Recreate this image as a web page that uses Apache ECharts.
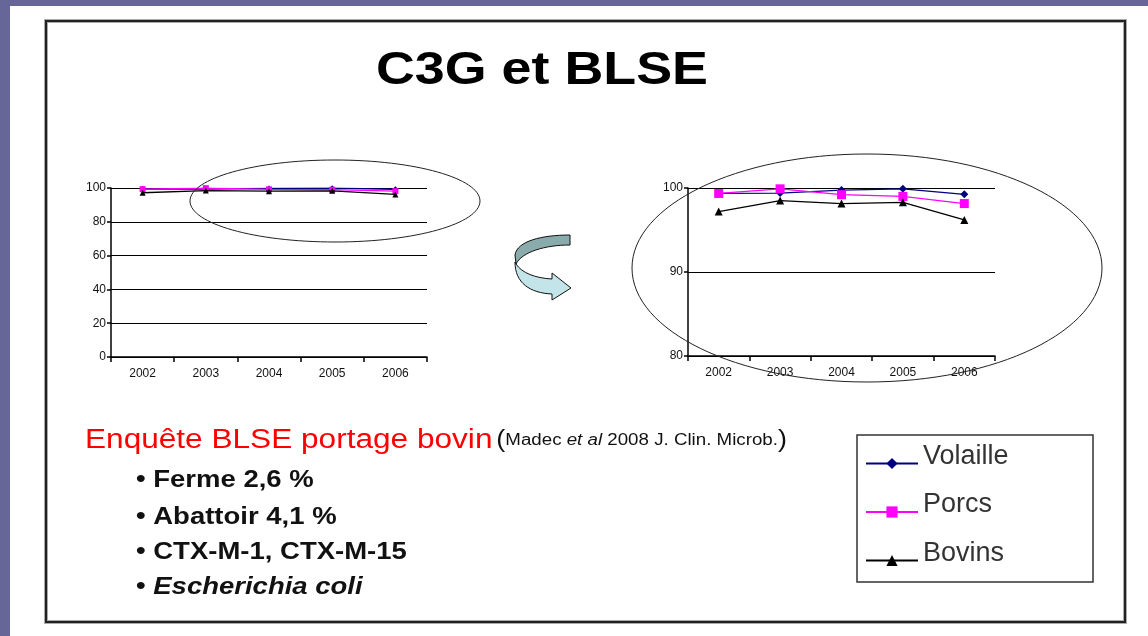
<!DOCTYPE html>
<html>
<head>
<meta charset="utf-8">
<script src="https://cdn.jsdelivr.net/npm/echarts@6/dist/echarts.min.js"></script>
<style>
html,body{margin:0;padding:0;background:#fff;}
#main{width:1148px;height:636px;}
</style>
</head>
<body>
<div id="main"></div>
<script>
// ---- data ----
const years = ['2002', '2003', '2004', '2005', '2006'];
const volaille = [99.35, 99.4, 99.75, 99.9, 99.25];
const porcs = [99.35, 99.9, 99.2, 99.0, 98.15];
const bovins = [97.2, 98.5, 98.15, 98.3, 96.2];
const seriesNames = ['Volaille', 'Porcs', 'Bovins'];
const leftAxis = { min: 0, max: 100, interval: 20 };
const rightAxis = { min: 80, max: 100, interval: 10 };
const titleText = 'C3G et BLSE';
const bullets = ['Ferme 2,6 %', 'Abattoir 4,1 %', 'CTX-M-1, CTX-M-15', 'Escherichia coli'];

const FONT = '"Liberation Sans", Arial, sans-serif';
const SX = 1.17; // horizontal stretch of the slide text
const colors = ['#000080', '#ff00ff', '#000000'];
const symbols = ['diamond', 'rect', 'triangle'];
const values = [volaille, porcs, bovins];

// curved arrow shapes
echarts.graphic.registerShape('arrowTop', echarts.graphic.extendPath(
  'M570,235 C542,235 517,241 515,255 L516,264 C522,252 545,245 570,245 Z', {}));
echarts.graphic.registerShape('arrowBottom', echarts.graphic.extendPath(
  'M516,264 C522,273 535,278 552,279 L552,273 L571,288 L552,300 L552,294 C530,293 515,283 515,262 Z', {}));

const chart = echarts.init(document.getElementById('main'), null, { renderer: 'canvas' });

function axisX(gridIndex) {
  return {
    type: 'category', gridIndex, data: years, boundaryGap: true,
    axisLine: { lineStyle: { color: '#000', width: 1.5 } },
    axisTick: { show: true, length: 5, lineStyle: { color: '#000', width: 1.5 } },
    axisLabel: { color: '#111', fontSize: 12, fontFamily: FONT, margin: 11 }
  };
}
function axisY(gridIndex, cfg) {
  return {
    type: 'value', gridIndex, min: cfg.min, max: cfg.max, interval: cfg.interval,
    axisLine: { show: true, lineStyle: { color: '#000', width: 1.5 } },
    axisTick: { show: true, length: 4, lineStyle: { color: '#000', width: 1.5 } },
    axisLabel: { color: '#111', fontSize: 12, fontFamily: FONT, margin: 5 },
    splitLine: { show: true, lineStyle: { color: '#000', width: 1 } }
  };
}

const series = [];
[1, 0].forEach(g => {
  seriesNames.forEach((n, i) => {
    series.push({
      name: n, type: 'line', xAxisIndex: g, yAxisIndex: g,
      data: values[i], symbol: symbols[i],
      symbolSize: g === 0 ? 6 : (i === 1 ? 9 : 8),
      lineStyle: { color: colors[i], width: 1.3 },
      itemStyle: { color: colors[i] },
      emphasis: { disabled: true },
      animation: false, z: 3 + i
    });
  });
});

function txt(x, y, text, extra) {
  return {
    type: 'text', x: x, y: y, scaleX: SX, silent: true,
    style: Object.assign({ text: text, fontFamily: FONT, verticalAlign: 'middle', fill: '#111' }, extra || {})
  };
}

const option = {
  backgroundColor: '#ffffff',
  animation: false,
  legend: {
    orient: 'vertical', left: 865, top: 443, padding: 0,
    itemWidth: 52, itemHeight: 14, itemGap: 7.5,
    selectedMode: false,
    data: seriesNames,
    formatter: name => name + '\n ',
    textStyle: { fontFamily: FONT, fontSize: 27, color: '#333', lineHeight: 14 }
  },
  grid: [
    { left: 111, top: 188, right: 721, bottom: 279 },
    { left: 688, top: 188, right: 153, bottom: 280 }
  ],
  xAxis: [axisX(0), axisX(1)],
  yAxis: [axisY(0, leftAxis), axisY(1, rightAxis)],
  series: series,
  graphic: [
    { type: 'rect', shape: { x: 0, y: 0, width: 1148, height: 6 }, style: { fill: '#666699' }, silent: true },
    { type: 'rect', shape: { x: 0, y: 0, width: 10, height: 636 }, style: { fill: '#666699' }, silent: true },
    { type: 'rect', shape: { x: 46, y: 21, width: 1079, height: 601 }, style: { fill: 'none', stroke: '#aaa', lineWidth: 4 }, silent: true },
    { type: 'rect', shape: { x: 46, y: 21, width: 1079, height: 601 }, style: { fill: 'none', stroke: '#222', lineWidth: 2 }, silent: true },
    { type: 'ellipse', shape: { cx: 335, cy: 201, rx: 145, ry: 41 }, style: { fill: 'none', stroke: '#222', lineWidth: 1 }, silent: true, z: 10 },
    { type: 'ellipse', shape: { cx: 867, cy: 268, rx: 235, ry: 114 }, style: { fill: 'none', stroke: '#222', lineWidth: 1 }, silent: true, z: 10 },
    { type: 'arrowTop', style: { fill: '#8aabab', stroke: '#111', lineWidth: 1 }, silent: true },
    { type: 'arrowBottom', style: { fill: '#c3e5e9', stroke: '#111', lineWidth: 1 }, silent: true },
    { type: 'rect', shape: { x: 857, y: 435, width: 236, height: 147 }, style: { fill: 'none', stroke: '#333', lineWidth: 1.5 }, silent: true },
    txt(376, 71, titleText, { fontSize: 46, fontWeight: 'bold', fill: '#000' }),
    txt(85, 441, '{r|Enquête BLSE portage bovin} {p|(}{c|Madec }{ci|et al}{c| 2008 J. Clin. Microb.}{p|)}', {
      rich: {
        r: { fontFamily: FONT, fontSize: 27, fill: '#ff0000', verticalAlign: 'middle' },
        p: { fontFamily: FONT, fontSize: 23, fill: '#111', verticalAlign: 'middle' },
        c: { fontFamily: FONT, fontSize: 16, fill: '#111', verticalAlign: 'middle' },
        ci: { fontFamily: FONT, fontSize: 16, fontStyle: 'italic', fill: '#111', verticalAlign: 'middle' }
      }
    }),
    txt(136, 481, '• ' + bullets[0], { fontSize: 23.5, fontWeight: 'bold' }),
    txt(136, 518, '• ' + bullets[1], { fontSize: 23.5, fontWeight: 'bold' }),
    txt(136, 553, '• ' + bullets[2], { fontSize: 23.5, fontWeight: 'bold' }),
    txt(136, 588, '{b|• }{i|' + bullets[3] + '}', {
      rich: {
        b: { fontFamily: FONT, fontSize: 23.5, fontWeight: 'bold', fill: '#111' },
        i: { fontFamily: FONT, fontSize: 23.5, fontWeight: 'bold', fontStyle: 'italic', fill: '#111' }
      }
    })
  ]
};
chart.setOption(option);
</script>
</body>
</html>
